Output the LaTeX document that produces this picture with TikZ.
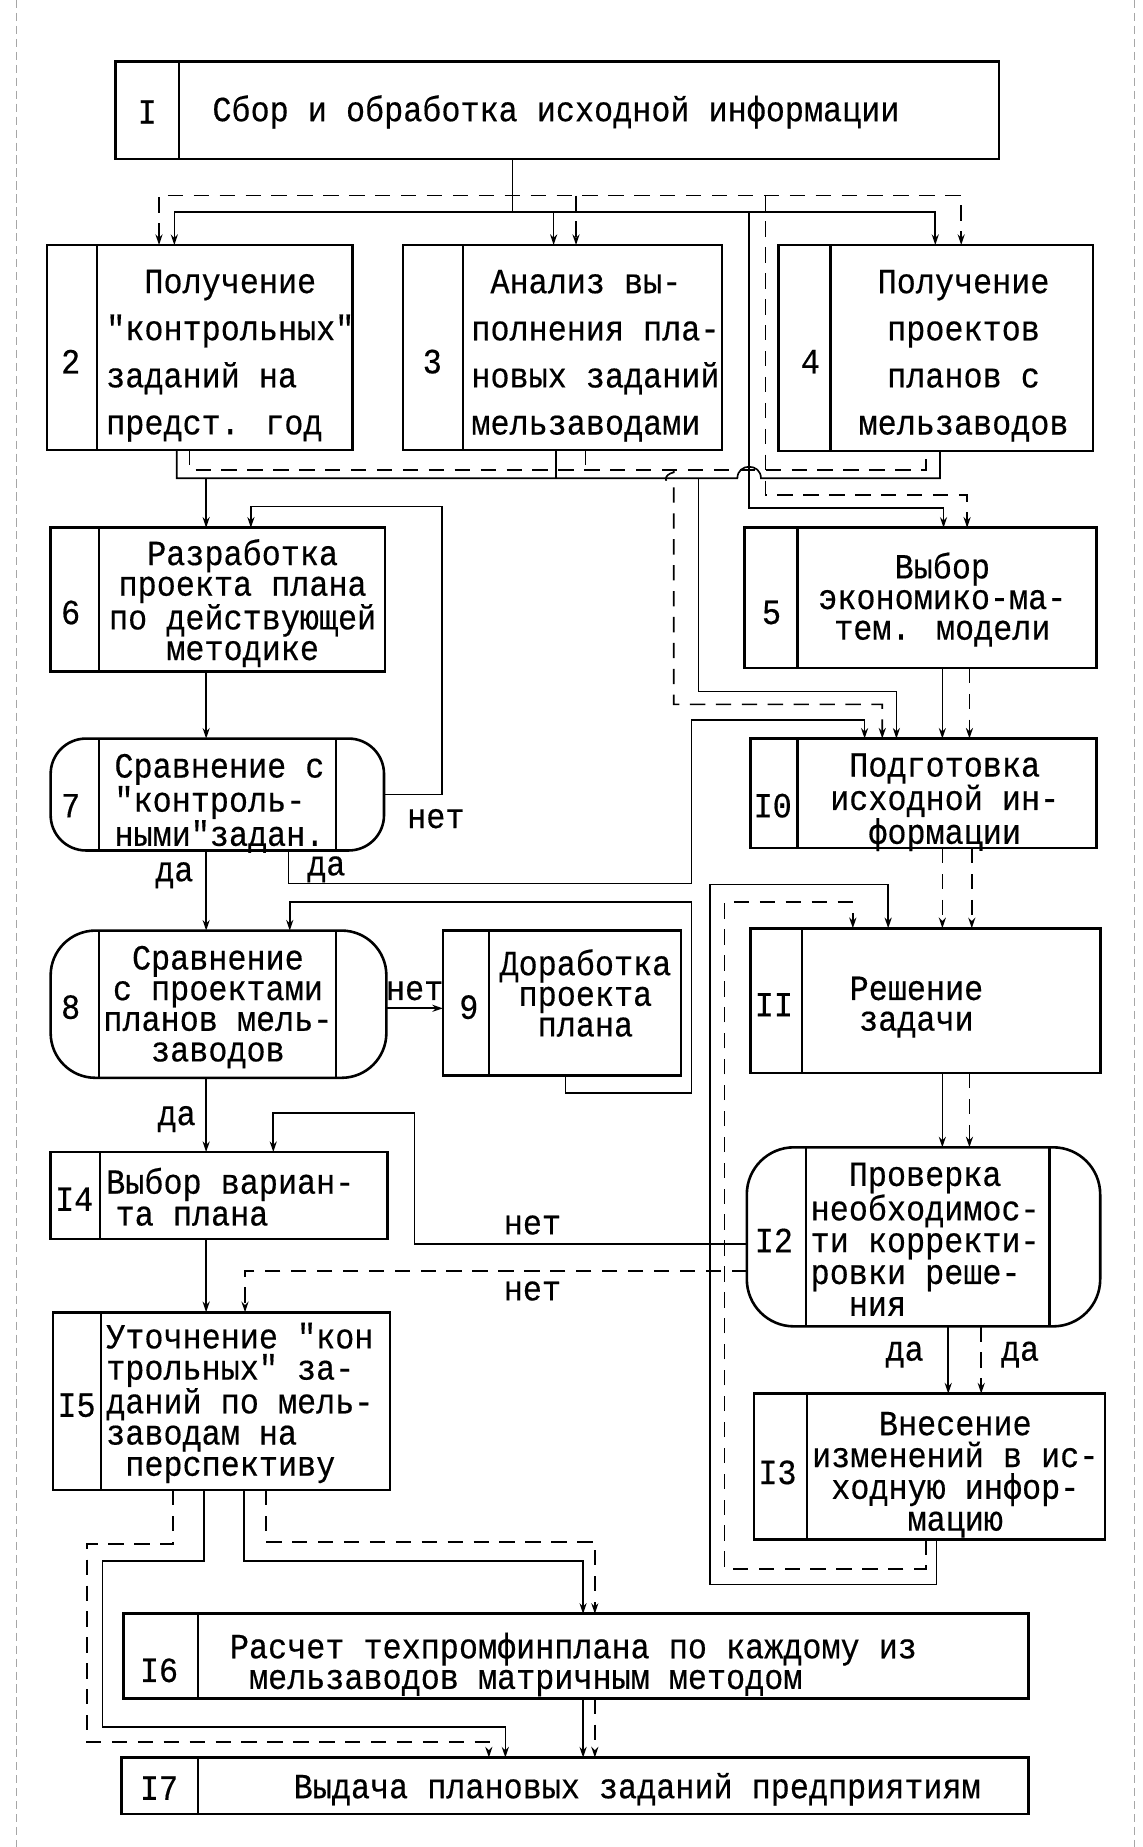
\documentclass[tikz,border=0pt]{standalone}
\usepackage{fontspec}
\newfontfamily\tw[FakeStretch=0.9,FakeBold=0.4]{Liberation Mono}
\usetikzlibrary{arrows.meta}
\newcommand\mkbox[6]{\node[#6, minimum width={(#4)-(#2)}, minimum height={(#5)-(#3)}] (#1) at ({((#2)+(#4))/2},{((#3)+(#5))/2}) {};}
\begin{document}
\begin{tikzpicture}[x=1pt,y=-1pt,
 >={Stealth[length=9pt,width=6pt]},
 box/.style={draw, line width=2.2pt, inner sep=0pt, outer sep=0pt},
 rbox/.style={box, rounded corners=#1},
 dv/.style={line width=1.8pt},
 ln/.style={line width=1.4pt},
 dl/.style={line width=1.4pt, dash pattern=on 13pt off 9pt},
 tx/.style={font=\tw\fontsize{30}{#1}\selectfont, inner sep=0pt, align=center},
 tx/.default=27,
 tl/.style={font=\tw\fontsize{30}{#1}\selectfont, inner sep=0pt, align=left, anchor=west},
 tl/.default=27,
 lbl/.style={font=\tw\fontsize{30}{30}\selectfont, inner sep=0pt},
 edge/.style={gray!70, line width=0.7pt, dash pattern=on 7pt off 4pt},
]
\fill[white] (0,0) rectangle (970,1568);
\useasboundingbox (0,0) rectangle (970,1568);
\draw[edge] (14,0) -- (14,1568);
\draw[edge] (963,0) -- (963,1568);

% ---------- boxes ----------
\mkbox{b1}{98}{52}{848}{135}{box}
\draw[dv] (152,0 |- b1.north) -- (152,0 |- b1.south);
\node[tx] (n1) at (125,95) {I};
\node[tx] (t1) at (472,95) {Сбор и обработка исходной информации};

\mkbox{b2}{40}{208}{299}{382}{box}
\draw[dv] (82,0 |- b2.north) -- (82,0 |- b2.south);
\node[tx] (n2) at (60,307) {2};
\node[tl=40] (t2) at (90,302) {~~Получение\\"контрольных"\\заданий на\\предст. год};

\mkbox{b3}{342}{208}{613}{382}{box}
\draw[dv] (393,0 |- b3.north) -- (393,0 |- b3.south);
\node[tx] (n3) at (367,307) {3};
\node[tl=40] (t3) at (400,302) {~Анализ вы-\\полнения пла-\\новых заданий\\мельзаводами};

\mkbox{b4}{661}{208}{928}{383}{box}
\draw[dv] (705,0 |- b4.north) -- (705,0 |- b4.south);
\node[tx] (n4) at (688,307) {4};
\node[tx=40] (t4) at (818,302) {Получение\\проектов\\планов с\\мельзаводов};

\mkbox{b6}{43}{448}{327}{570}{box}
\draw[dv] (84,0 |- b6.north) -- (84,0 |- b6.south);
\node[tx] (n6) at (60,520) {6};
\node[tx=26] (t6) at (206,512) {Разработка\\проекта плана\\по действующей\\методике};

\mkbox{b5}{632}{448}{931}{567}{box}
\draw[dv] (677,0 |- b5.north) -- (677,0 |- b5.south);
\node[tx] (n5) at (655,520) {5};
\node[tx=26] (t5) at (800,509) {Выбор\\экономико-ма-\\тем. модели};

\mkbox{b7}{43}{627}{326}{722}{rbox=30pt}
\draw[dv] (84,0 |- b7.north) -- (84,0 |- b7.south);
\draw[dv] (285,0 |- b7.north) -- (285,0 |- b7.south);
\node[tx] (n7) at (60,684) {7};
\node[tl] (t7) at (97,682) {Сравнение с\\"контроль-\\ными"задан.};

\mkbox{b10}{637}{627}{931}{720}{box}
\draw[dv] (677,0 |- b10.north) -- (677,0 |- b10.south);
\node[tx] (n10) at (656,684) {I0};
\node[tx] (t10) at (802,681) {Подготовка\\исходной ин-\\формации};

\mkbox{b8}{43}{790}{328}{915}{rbox=38pt}
\draw[dv] (84,0 |- b8.north) -- (84,0 |- b8.south);
\draw[dv] (285,0 |- b8.north) -- (285,0 |- b8.south);
\node[tx] (n8) at (60,855) {8};
\node[tx=26] (t8) at (185,855) {Сравнение\\с проектами\\планов мель-\\заводов};

\mkbox{b9}{376}{790}{578}{913}{box}
\draw[dv] (415,0 |- b9.north) -- (415,0 |- b9.south);
\node[tx] (n9) at (398,855) {9};
\node[tx=26] (t9) at (497,843) {Доработка\\проекта\\плана};

\mkbox{b11}{637}{788}{934}{911}{box}
\draw[dv] (681,0 |- b11.north) -- (681,0 |- b11.south);
\node[tx] (n11) at (657,853) {II};
\node[tx=26] (t11) at (778,855) {Решение\\задачи};

\mkbox{b14}{43}{978}{329}{1052}{box}
\draw[dv] (85,0 |- b14.north) -- (85,0 |- b14.south);
\node[tx] (n14) at (63,1018) {I4};
\node[tl] (t14) at (90,1016) {Выбор вариан-\\\hspace*{8pt}та плана};

\mkbox{b12}{634}{974}{934}{1126}{rbox=40pt}
\draw[dv] (684,0 |- b12.north) -- (684,0 |- b12.south);
\draw[dv] (891,0 |- b12.north) -- (891,0 |- b12.south);
\node[tx] (n12) at (657,1053) {I2};
\node[tl] (t12) at (688,1052) {~~Проверка\\необходимос-\\ти корректи-\\ровки реше-\\~~ния};

\mkbox{b15}{45}{1114}{331}{1265}{box}
\draw[dv] (86,0 |- b15.north) -- (86,0 |- b15.south);
\node[tx] (n15) at (65,1193) {I5};
\node[tl=26.5] (t15) at (90,1191) {Уточнение "кон\\трольных" за-\\даний по мель-\\заводам на\\~перспективу};

\mkbox{b13}{640}{1183}{938}{1307}{box}
\draw[dv] (685,0 |- b13.north) -- (685,0 |- b13.south);
\node[tx] (n13) at (660,1250) {I3};
\node[tx] (t13) at (811,1252) {Внесение\\изменений в ис-\\ходную инфор-\\мацию};

\mkbox{b16}{105}{1370}{873}{1442}{box}
\draw[dv] (168,0 |- b16.north) -- (168,0 |- b16.south);
\node[tx] (n16) at (135,1418) {I6};
\node[tl=26] (t16) at (195,1413) {Расчет техпромфинплана по каждому из\\~мельзаводов матричным методом};

\mkbox{b17}{103}{1492}{873}{1540}{box}
\draw[dv] (168,0 |- b17.north) -- (168,0 |- b17.south);
\node[tx] (n17) at (135,1518) {I7};
\node[tx] (t17) at (541,1519) {Выдача плановых заданий предприятиям};

% ---------- top buses ----------
\draw[ln] (435,0 |- b1.south) -- (435,180);
\draw[ln,<->] (148,0 |- b2.north) -- (148,180) -- (794,180) -- (794,0 |- b4.north);
\draw[ln,->] (470,180) -- (470,0 |- b3.north);
\draw[dl,<->] (135,0 |- b2.north) -- (135,166) -- (816,166) -- (816,0 |- b4.north);
\draw[dl,->] (489,166) -- (489,0 |- b3.north);
\draw[ln,->] (636,180) -- (636,431) -- (801,431) -- (801,0 |- b5.north);
\draw[dl,->] (650,166) -- (650,420) -- (821,420) -- (821,0 |- b5.north);

% ---------- buses under 2,3,4 ----------
\draw[ln] (150,0 |- b2.south) -- (150,406) -- (626,406) .. controls (626,393) and (646,393) .. (646,406) -- (798,406) -- (798,0 |- b4.south);
\draw[ln] (472,0 |- b3.south) -- (472,406);
\draw[dl] (161,0 |- b2.south) -- (161,399) -- (786,399) -- (786,0 |- b4.south);
\draw[dl] (497,0 |- b3.south) -- (497,399);
\draw[ln,->] (175,406) -- (175,0 |- b6.north);
\draw[ln,->] (593,406) -- (593,587) -- (761,587) -- (761,0 |- b10.north);
\draw[dl,->] (572,399) -- (572,401) .. controls (563,403) and (563,410) .. (572,413) -- (572,598) -- (749,598) -- (749,0 |- b10.north);

% ---------- left column ----------
\draw[ln,->] (b7.east) -- (375,0 |- b7.east) -- (375,430) -- (213,430) -- (213,0 |- b6.north);
\node[lbl] (l1) at (370,695) {нет};
\draw[ln,->] (175,0 |- b6.south) -- (175,0 |- b7.north);
\draw[ln,->] (175,0 |- b7.south) -- (175,0 |- b8.north);
\node[lbl] (l2) at (148,743) {да};
\draw[ln,->] (245,0 |- b7.south) -- (245,750) -- (587,750) -- (587,611) -- (734,611) -- (734,0 |- b10.north);
\node[lbl] (l3) at (277,738) {да};
\draw[ln,->] (b8.east |- 0,856) -- (b9.west |- 0,856);
\node[lbl] (l4) at (352,841) {нет};
\draw[ln,->] (480,0 |- b9.south) -- (480,928) -- (587,928) -- (587,766) -- (246,766) -- (246,0 |- b8.north);
\draw[ln,->] (175,0 |- b8.south) -- (175,0 |- b14.north);
\node[lbl] (l5) at (150,950) {да};
\draw[ln,->] (175,0 |- b14.south) -- (175,0 |- b15.north);
\draw[ln,->] (b12.west |- 0,1056) -- (352,1056) -- (352,945) -- (232,945) -- (232,0 |- b14.north);
\node[lbl] (l6) at (452,1040) {нет};
\draw[dl,->] (b12.west |- 0,1079) -- (208,1079) -- (208,0 |- b15.north);
\node[lbl] (l7) at (452,1096) {нет};

% ---------- right column ----------
\draw[ln,->] (800,0 |- b5.south) -- (800,0 |- b10.north);
\draw[dl,->] (823,0 |- b5.south) -- (823,0 |- b10.north);
\draw[dl,->] (800,0 |- b10.south) -- (800,0 |- b11.north);
\draw[dl,->] (825,0 |- b10.south) -- (825,0 |- b11.north);
\draw[ln,->] (800,0 |- b11.south) -- (800,0 |- b12.north);
\draw[dl,->] (823,0 |- b11.south) -- (823,0 |- b12.north);
\draw[ln,->] (805,0 |- b12.south) -- (805,0 |- b13.north);
\draw[dl,->] (833,0 |- b12.south) -- (833,0 |- b13.north);
\node[lbl] (l8) at (768,1150) {да};
\node[lbl] (l9) at (866,1150) {да};
\draw[ln,->] (795,0 |- b13.south) -- (795,1345) -- (603,1345) -- (603,751) -- (754,751) -- (754,0 |- b11.north);
\draw[dl,->] (786,0 |- b13.south) -- (786,1332) -- (615,1332) -- (615,766) -- (724,766) -- (724,0 |- b11.north);

% ---------- bottom ----------
\draw[ln,->] (173,0 |- b15.south) -- (173,1325) -- (87,1325) -- (87,1466) -- (429,1466) -- (429,0 |- b17.north);
\draw[dl,->] (147,0 |- b15.south) -- (147,1311) -- (74,1311) -- (74,1479) -- (415,1479) -- (415,0 |- b17.north);
\draw[ln,->] (207,0 |- b15.south) -- (207,1325) -- (495,1325) -- (495,0 |- b16.north);
\draw[dl,->] (226,0 |- b15.south) -- (226,1309) -- (505,1309) -- (505,0 |- b16.north);
\draw[ln,->] (495,0 |- b16.south) -- (495,0 |- b17.north);
\draw[dl,->] (505,0 |- b16.south) -- (505,0 |- b17.north);
\end{tikzpicture}
\end{document}
